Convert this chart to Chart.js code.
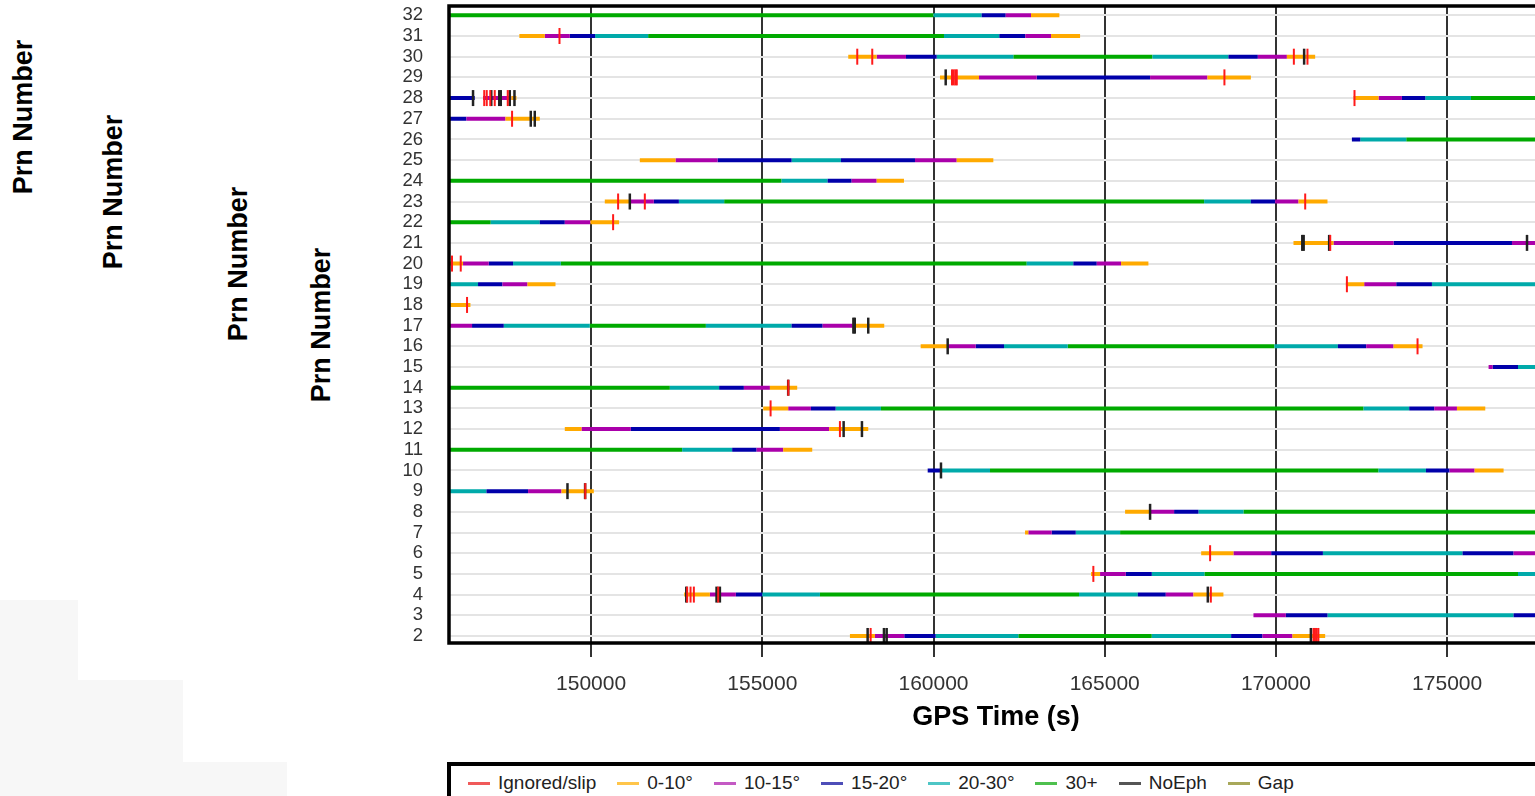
<!DOCTYPE html>
<html>
<head>
<meta charset="utf-8">
<title>Prn Number vs GPS Time</title>
<script src="https://cdn.jsdelivr.net/npm/chart.js@4.4.0/dist/chart.umd.min.js"></script>
<style>
  html, body { margin: 0; padding: 0; background: #fff; overflow: hidden; width: 1535px; height: 796px; }
  body { position: relative; font-family: 'Liberation Sans', Arial, sans-serif; color: #000; }
  #wrap { position: absolute; left: 0; top: 0; width: 1548px; height: 760px; }
  .shade { position: absolute; background: #f7f7f7; }
  .ytitle, .xtitle { position: absolute; font-weight: bold; font-size: 27px; white-space: nowrap; }
  .ytitle { transform: translate(-50%, -50%) rotate(-90deg); }
  .xtitle { transform: translate(-50%, -50%); }
  #legend { position: absolute; left: 447px; top: 762px; width: 1110px; height: 50px;
            border: 4px solid #000; box-sizing: border-box; background: #fff; }
  #legend .row { display: flex; align-items: center; height: 34px; padding-left: 17px; font-size: 19px; color: #222; }
  #legend .item { display: flex; align-items: center; margin-right: 21px; }
  #legend .swatch { width: 22px; height: 3px; margin-right: 8px; }
</style>
</head>
<body>
<div class="shade" style="left:0;top:600px;width:78px;height:80px"></div>
<div class="shade" style="left:0;top:680px;width:183px;height:82px"></div>
<div class="shade" style="left:0;top:762px;width:287px;height:34px"></div>

<div class="ytitle" style="left:23px;top:117px">Prn Number</div>
<div class="ytitle" style="left:113px;top:192px">Prn Number</div>
<div class="ytitle" style="left:238px;top:264px">Prn Number</div>
<div class="ytitle" style="left:321px;top:325px">Prn Number</div>

<div id="wrap"><canvas id="arcChart" width="1548" height="760"></canvas></div>
<div class="xtitle" style="left:996px;top:716px">GPS Time (s)</div>
<div id="legend"><div class="row" id="legendRow"></div></div>

<script>
// 坐标范围
const xMin = 145850;
const xMax = 177800;
const yMin = 1.66;
const yMax = 32.45;

const prnList = [2, 3, 4, 5, 6, 7, 8, 9, 10, 11, 12, 13, 14, 15, 16, 17,
                 18, 19, 20, 21, 22, 23, 24, 25, 26, 27, 28, 29, 30, 31, 32];
const timeTicks = [150000, 155000, 160000, 165000, 170000, 175000];

// 各仰角区间的弧段 [prn, 开始, 结束]
const elev30 = [
    [32, 145850, 160000], [31, 151666, 160306], [30, 162331, 166393],
    [28, 175696, 177800], [26, 173806, 177800], [24, 145850, 155563],
    [23, 153886, 167903], [22, 145850, 147069], [20, 149115, 162722],
    [17, 149962, 153352], [16, 163920, 169957], [14, 145850, 152300],
    [13, 158465, 172558], [11, 145850, 152659], [10, 161650, 172997],
    [8, 169052, 177800], [7, 165449, 177800], [5, 167912, 177070],
    [4, 156683, 164250], [2, 162477, 166375]
];

const elev20 = [
    [32, 160000, 161407], [31, 150117, 151666], [31, 160306, 161922],
    [30, 160093, 162331], [30, 166393, 168613], [28, 174361, 175696],
    [26, 172462, 173806], [25, 155856, 157296], [24, 155563, 156908],
    [23, 152563, 153886], [23, 167903, 169268], [22, 147069, 148501],
    [20, 147721, 149115], [20, 162722, 164084], [19, 145850, 146698],
    [19, 174556, 177800], [17, 147449, 149962], [17, 153352, 155856],
    [16, 162059, 163920], [16, 169957, 171810], [15, 177070, 177800],
    [14, 152300, 153740], [13, 157141, 158465], [13, 172558, 173893],
    [11, 152659, 154120], [10, 160239, 161650], [10, 172997, 174382],
    [9, 145850, 146944], [8, 167737, 169052], [7, 164154, 165449],
    [6, 171372, 175451], [5, 166375, 167912], [5, 177070, 177800],
    [4, 154997, 156683], [4, 164250, 165966], [3, 171506, 176941],
    [2, 160063, 162477], [2, 166375, 168692]
];

const elev15 = [
    [32, 161407, 162109], [31, 149378, 150117], [31, 161922, 162682],
    [30, 159196, 160093], [30, 168613, 169472], [29, 163014, 166325],
    [28, 145850, 146602], [28, 173680, 174361], [27, 145850, 146359],
    [26, 172219, 172462], [25, 153693, 155856], [25, 157296, 159459],
    [24, 156908, 157609], [23, 151832, 152563], [23, 169268, 169978],
    [22, 148501, 149232], [21, 173435, 176894], [20, 147011, 147721],
    [20, 164084, 164768], [19, 146698, 147411], [19, 173513, 174556],
    [17, 146523, 147449], [17, 155856, 156762], [16, 161232, 162059],
    [16, 171810, 172637], [15, 176328, 177070], [14, 153740, 154462],
    [13, 156420, 157141], [13, 173893, 174624], [12, 151160, 155514],
    [11, 154120, 154833], [10, 159830, 160239], [10, 174382, 175071],
    [9, 146944, 148159], [8, 167026, 167737], [7, 163453, 164154],
    [6, 169861, 171372], [6, 175451, 176941], [5, 165615, 166375],
    [4, 154228, 154997], [4, 165966, 166784], [3, 170290, 171506],
    [3, 176941, 177800], [2, 159146, 160063], [2, 168692, 169607]
];

const elev10 = [
    [32, 162109, 162848], [31, 148647, 149378], [31, 162682, 163433],
    [30, 158340, 159196], [30, 169472, 170320], [29, 161329, 163014],
    [29, 166325, 168000], [28, 146844, 147674], [28, 172997, 173680],
    [27, 146359, 147499], [25, 152466, 153693], [25, 159459, 160677],
    [24, 157609, 158340], [23, 151131, 151832], [23, 169978, 170659],
    [22, 149232, 149982], [21, 171681, 173435], [21, 176894, 177800],
    [20, 146260, 147011], [20, 164768, 165478], [19, 147411, 148142],
    [19, 172578, 173513], [17, 145850, 146523], [17, 156762, 157638],
    [16, 160414, 161232], [16, 172637, 173435], [15, 176211, 176328],
    [14, 154462, 155222], [13, 155756, 156420], [13, 174624, 175287],
    [12, 149719, 151160], [12, 155514, 156954], [11, 154833, 155610],
    [10, 175071, 175802], [9, 148159, 149135], [8, 166325, 167026],
    [7, 162769, 163453], [6, 168759, 169861], [6, 176941, 177800],
    [5, 164864, 165615], [4, 153468, 154228], [4, 166784, 167591],
    [3, 169344, 170290], [2, 158289, 159146], [2, 169607, 170483]
];

const elev0 = [
    [32, 162848, 163675], [31, 147905, 148647], [31, 163433, 164280],
    [30, 157510, 158340], [30, 170320, 171146], [29, 160189, 161329],
    [29, 168000, 169268], [28, 147674, 147820], [28, 172266, 172997],
    [27, 147499, 148501], [25, 151423, 152466], [25, 160677, 161747],
    [24, 158340, 159137], [23, 150400, 151131], [23, 170659, 171506],
    [22, 149982, 150818], [21, 170513, 171681], [20, 145850, 146260],
    [20, 165478, 166276], [19, 148142, 148960], [19, 172043, 172578],
    [18, 145850, 146476], [17, 157638, 158561], [16, 159625, 160414],
    [16, 173435, 174282], [14, 155222, 156019], [13, 155026, 155756],
    [13, 175287, 176114], [12, 149232, 149719], [12, 156954, 158094],
    [11, 155610, 156458], [10, 175802, 176649], [9, 149135, 150079],
    [8, 165595, 166325], [7, 162673, 162769], [6, 167817, 168759],
    [5, 164601, 164864], [4, 152717, 153468], [4, 167591, 168467],
    [2, 157559, 158289], [2, 170483, 171438]
];

// 周跳 / 忽略 [prn, 时间]
const slipMarks = [
    [31, 149077], [30, 157773], [30, 158211], [30, 170524], [30, 170921],
    [29, 160540], [29, 160590], [29, 160640], [29, 160680], [29, 168496],
    [28, 146879], [28, 146952], [28, 147055], [28, 147186], [28, 147566],
    [28, 172295], [27, 147692], [23, 150789], [23, 151569], [23, 170855],
    [22, 150643], [21, 171586], [20, 145938], [20, 146193], [19, 172073],
    [18, 146377], [16, 174136], [14, 155760], [13, 155242], [12, 157267],
    [9, 149830], [6, 168078], [5, 164668], [4, 152805], [4, 152904],
    [4, 153001], [4, 153711], [4, 168099], [2, 158164], [2, 171097],
    [2, 171140], [2, 171190], [2, 171240]
];

// 无星历 [prn, 时间]
const noEphMarks = [
    [30, 170824], [29, 160356], [28, 146552], [28, 147084], [28, 147318],
    [28, 147362], [28, 147625], [28, 147762], [27, 148238], [27, 148355],
    [23, 151131], [21, 170770], [21, 170810], [21, 171555], [21, 177333],
    [17, 157660], [17, 157700], [17, 158094], [16, 160414], [14, 155756],
    [12, 157375], [12, 157910], [10, 160218], [9, 149310], [9, 149825],
    [8, 166325], [4, 152780], [4, 153664], [4, 153761], [4, 168011],
    [2, 158076], [2, 158553], [2, 158632], [2, 171021]
];

const legendNames = ['Ignored/slip', '0-10°', '10-15°', '15-20°', '20-30°', '30+', 'NoEph', 'Gap'];
const legendColors = ['#f05a5a', '#ffc54a', '#c45ac4', '#4e4eb8', '#4ec6c6', '#4ec04e', '#555555', '#a8a85a'];

const fontFamily = "'Liberation Sans', Arial, sans-serif";

/**
 * 把弧段转成折线点，用 null 断开
 */
function segLine(segs) {
    const pts = [];
    segs.forEach(([prn, s, e]) => {
        pts.push({ x: s, y: prn }, { x: e, y: prn }, { x: e, y: null });
    });
    return pts;
}

function lineSet(segs, color) {
    return {
        data: segLine(segs),
        borderColor: color,
        borderWidth: 4,
        borderCapStyle: 'butt',
        pointRadius: 0,
        pointHoverRadius: 0,
        fill: false,
        tension: 0,
        spanGaps: false,
        order: 2
    };
}

function markSet(marks, color, width, order) {
    return {
        data: marks.map(([prn, t]) => ({ x: t, y: prn })),
        showLine: false,
        pointStyle: 'line',
        pointRotation: 90,
        pointRadius: 8,
        pointHoverRadius: 8,
        pointBorderColor: color,
        pointBorderWidth: width,
        pointBackgroundColor: color,
        order: order
    };
}

// 图框
const framePlugin = {
    id: 'frame',
    afterDraw(chart) {
        const { ctx, chartArea: { left, top, right, bottom } } = chart;
        ctx.save();
        ctx.strokeStyle = '#000';
        ctx.lineWidth = 3.5;
        ctx.strokeRect(left, top, right - left, bottom - top);
        ctx.restore();
    }
};

new Chart(document.getElementById('arcChart'), {
    type: 'line',
    data: {
        datasets: [
            markSet(slipMarks, '#ff1a1a', 2, 0),
            markSet(noEphMarks, '#222222', 2.5, 1),
            lineSet(elev0, '#ffaa00'),
            lineSet(elev10, '#aa00aa'),
            lineSet(elev15, '#0000aa'),
            lineSet(elev20, '#00aaaa'),
            lineSet(elev30, '#00aa00')
        ]
    },
    options: {
        responsive: false,
        animation: false,
        events: [],
        layout: { autoPadding: false, padding: { top: 6, right: 5, bottom: 0, left: 0 } },
        plugins: {
            legend: { display: false },
            tooltip: { enabled: false }
        },
        scales: {
            x: {
                type: 'linear',
                min: xMin,
                max: xMax,
                afterBuildTicks: axis => { axis.ticks = timeTicks.map(v => ({ value: v })); },
                afterFit: axis => {
                    axis.height = 117;
                    axis.paddingLeft = 0;
                    axis.paddingRight = 0;
                },
                border: { display: false },
                grid: { color: '#333', lineWidth: 2, tickLength: 14 },
                ticks: {
                    color: '#333',
                    padding: 15,
                    maxRotation: 0,
                    autoSkip: false,
                    font: { family: fontFamily, size: 21 },
                    callback: v => String(v)
                }
            },
            y: {
                type: 'linear',
                min: yMin,
                max: yMax,
                afterBuildTicks: axis => { axis.ticks = prnList.map(v => ({ value: v })); },
                afterFit: axis => {
                    axis.width = 449;
                    axis.paddingTop = 0;
                    axis.paddingBottom = 0;
                },
                border: { display: false },
                grid: { color: '#e4e4e4', lineWidth: 2, drawTicks: false },
                ticks: {
                    color: '#333',
                    padding: 26,
                    autoSkip: false,
                    font: { family: fontFamily, size: 18.5 }
                }
            }
        }
    },
    plugins: [framePlugin]
});

// 图例
const legendRow = document.getElementById('legendRow');
legendNames.forEach((name, i) => {
    const item = document.createElement('div');
    item.className = 'item';
    item.innerHTML = `<span class="swatch" style="background:${legendColors[i]}"></span><span>${name}</span>`;
    legendRow.appendChild(item);
});
</script>
</body>
</html>
